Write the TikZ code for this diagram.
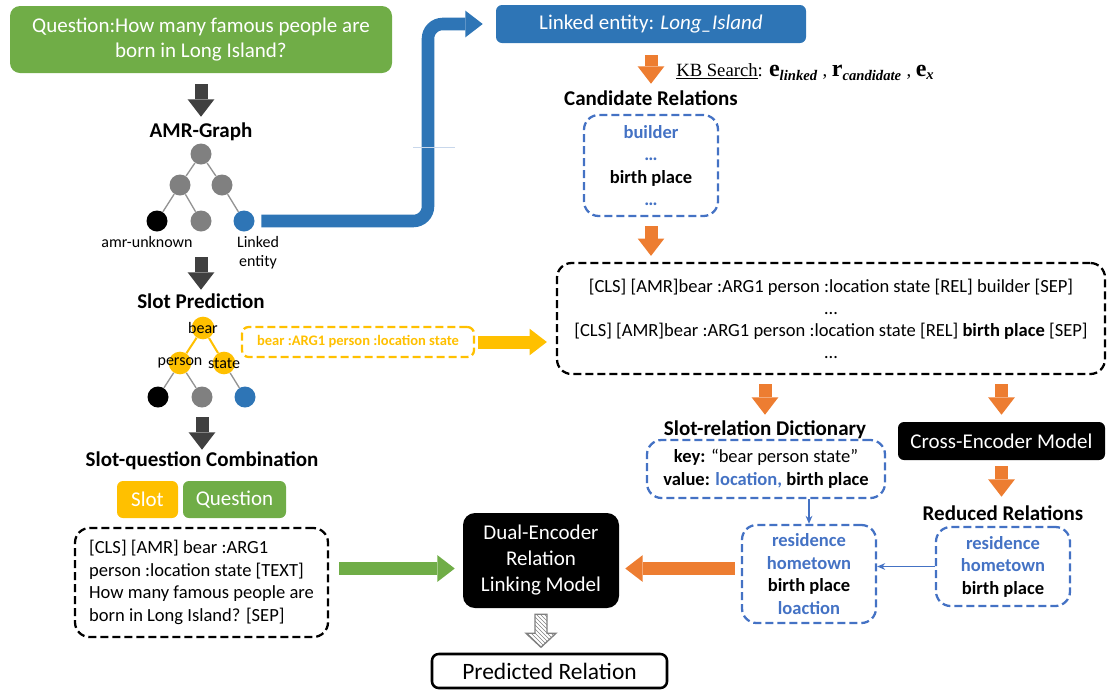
\documentclass[tikz,border=0pt]{standalone}
\usepackage{fontspec}
\setmainfont{Carlito}
\newfontfamily\kbfont{Liberation Serif}
\usepackage{tikz}
\usetikzlibrary{arrows.meta,calc,patterns}

\definecolor{ppgreen}{RGB}{112,173,71}
\definecolor{ppblue}{RGB}{46,117,182}
\definecolor{pporange}{RGB}{237,125,49}
\definecolor{ppyellow}{RGB}{255,192,0}
\definecolor{ppdash}{RGB}{68,114,196}
\definecolor{ppdark}{RGB}{64,64,64}
\definecolor{ppgray}{RGB}{128,128,128}
\definecolor{ppfaint}{RGB}{200,215,235}

\newcommand{\fbig}{\fontsize{15.75}{19.5}\selectfont}
\newcommand{\fmid}{\fontsize{13.9}{16.9}\selectfont}
\newcommand{\fsmall}{\fontsize{12}{14.25}\selectfont}

\tikzset{
  ttl/.style={font=\fbig\bfseries, inner sep=0pt, text height=11.5pt, text depth=3.5pt},
  fillbox/.style={rounded corners=4.5pt, inner sep=0pt, text=white, font=\fbig, align=center},
  bluedash/.style={draw=ppdash, line width=1.7pt, dash pattern=on 6pt off 3pt, rounded corners=11pt, inner sep=0pt, align=center, font=\fmid\bfseries},
  blackdash/.style={draw=black, line width=1.7pt, dash pattern=on 6pt off 3pt, rounded corners=11pt, inner sep=0pt, font=\fmid},
  gnode/.style={circle, fill=ppgray, minimum size=15.75pt, inner sep=0pt},
  ynode/.style={circle, fill=ppyellow, minimum size=17pt, inner sep=0pt},
  lbl/.style={font=\fsmall, inner sep=0pt, text=black},
  gedge/.style={draw=ppgray!85, line width=1pt},
  yedge/.style={draw=ppyellow, line width=1.5pt},
  blockarr/.style={line width=9.75pt, -{Triangle[length=13pt, width=20pt, line width=0pt]}},
  thinarr/.style={draw=ppdash, line width=1.1pt, -{Stealth[length=6pt, width=5pt]}}
}

\begin{document}
\begin{tikzpicture}[x=0.75pt,y=0.75pt,yscale=-1,xscale=1]
\useasboundingbox (0,0) rectangle (1107,690);

%Shape: Rounded Rect (question)
\draw (201,39.5) node (q) [fillbox, fill=ppgreen, rounded corners=7.5pt, minimum width=286.5pt, minimum height=50.25pt, font=\fontsize{15.75}{18.75}\selectfont] {Question:How many famous people are\\born in Long Island?};

% Text Node
\draw (201,132) node (amrt) [ttl] {AMR-Graph};

%Shape: Circles (AMR graph)
\draw (201,154) node (a0) [gnode] {};
\draw (180,185) node (a1) [gnode] {};
\draw (222,185) node (a2) [gnode] {};
\draw (157,221) node (a3) [gnode, fill=black] {};
\draw (201,221) node (a4) [gnode] {};
\draw (244,221) node (a5) [gnode, fill=ppblue] {};
\draw [gedge] (a0) -- (a1) (a0) -- (a2) (a1) -- (a3) (a1) -- (a4) (a2) -- (a5);

% Text Node
\draw (147,242) node (unk) [inner sep=0pt, font=\fontsize{12}{14.25}\selectfont] {amr-unknown};
% Text Node
\draw (258,252.5) node (lent) [inner sep=0pt, align=center, font=\fontsize{12}{14.25}\selectfont] {Linked\\entity};

%Straight Lines
\draw [blockarr, draw=ppdark, shorten <=8.25pt, shorten >=3.75pt] (q.south) -- (amrt.north);

%Shape: Rounded Rect (linked entity)
\draw (651,24) node (le) [fillbox, fill=ppblue, minimum width=232.5pt, minimum height=28.5pt] {Linked entity: \textit{Long\_Island}};

%Curve Lines
\draw [blockarr, draw=ppblue, line width=9.4pt, rounded corners=11pt, shorten <=4.9pt, shorten >=9.75pt] (a5) -- (428,221) |- (le);

%Straight Lines
\draw [draw=ppfaint, line width=0.75pt] (413,147) -- (455,147);

% Text Node
\draw (651,100) node (candt) [ttl] {Candidate Relations};
%Straight Lines
\draw [blockarr, draw=pporange, shorten <=9pt, shorten >=4.5pt] (le.south) -- (candt.north);

% Text Node
\draw (676,72) node (kb) [anchor=west, inner sep=0pt, font=\kbfont\fontsize{14}{16}\selectfont] {\underline{KB Search}: {\fontsize{18}{18}\selectfont\bfseries e}\textsubscript{\fontsize{11}{11}\selectfont\bfseries\itshape linked} , {\fontsize{18}{18}\selectfont\bfseries r}\textsubscript{\fontsize{11}{11}\selectfont\bfseries\itshape candidate} , {\fontsize{18}{18}\selectfont\bfseries e}\textsubscript{\fontsize{11}{11}\selectfont\bfseries\itshape x}};

%Shape: Rounded Rect (candidates)
\draw (651,165.5) node (cand) [bluedash, minimum width=100.5pt, minimum height=75.75pt] {\textcolor{ppdash}{builder}\\\textcolor{ppdash}{…}\\birth place\\\textcolor{ppdash}{…}};

%Shape: Rounded Rect (input pairs)
\draw (831,318.5) node (bigb) [blackdash, minimum width=411pt, minimum height=83.25pt, align=center, font=\fontsize{13.9}{16.5}\selectfont] {[CLS] [AMR]bear :ARG1 person :location state [REL] builder [SEP]\\…\\{}[CLS] [AMR]bear :ARG1 person :location state [REL] \textbf{birth place} [SEP]\\…};
%Straight Lines
\draw [blockarr, draw=pporange, shorten <=6.75pt, shorten >=4.5pt] (cand.south) -- (cand.south |- bigb.north);

% Text Node
\draw (201,303) node (spt) [ttl] {Slot Prediction};
%Straight Lines
\draw [blockarr, draw=ppdark, shorten <=19.1pt, shorten >=2.25pt] (a4.south) -- (spt.north);

%Shape: Circles (slot graph)
\draw (203,328) node (b0) [ynode, label={[lbl]center:bear}] {};
\draw (180,363) node (b1) [ynode, label={[lbl]center:person}] {};
\draw (224,363) node (b2) [ynode, label={[lbl]center:state}] {};
\draw (158,397) node (c1) [gnode, fill=black] {};
\draw (202,397) node (c2) [gnode] {};
\draw (245,397) node (c3) [gnode, fill=ppblue] {};
\draw [yedge] (b0) -- (b1) (b0) -- (b2);
\draw [gedge] (b1) -- (c1) (b1) -- (c2) (b2) -- (c3);

%Shape: Rounded Rect (slot string)
\draw (358,342) node (ys) [draw=ppyellow, line width=1.7pt, dash pattern=on 6pt off 3pt, rounded corners=5pt, minimum width=174pt, minimum height=22.5pt, inner sep=0pt, text=ppyellow, font=\fontsize{10.9}{13}\selectfont\bfseries] {bear :ARG1 person :location state};
%Straight Lines
\draw [blockarr, draw=ppyellow, shorten <=2.25pt, shorten >=6.75pt] (ys.east) -- (ys.east -| bigb.west);

% Text Node
\draw (202,461) node (sqt) [ttl] {Slot-question Combination};
%Straight Lines
\draw [blockarr, draw=ppdark, shorten <=7.1pt, shorten >=0.75pt] (c2.south) -- (sqt.north);

%Shape: Rounded Rect (slot / question)
\draw (147.5,499.5) node (sl) [fillbox, fill=ppyellow, minimum width=45.75pt, minimum height=27.75pt] {Slot};
\draw (234.5,499.5) node (qu) [fillbox, fill=ppgreen, minimum width=77.25pt, minimum height=27.75pt] {Question};

%Shape: Rounded Rect (combined input)
\draw (201.5,582.5) node (comb) [blackdash, minimum width=189.75pt, minimum height=81.75pt, align=left, font=\fontsize{13.9}{16.9}\selectfont] {[CLS] [AMR] bear :ARG1\\person :location state [TEXT]\\How many famous people are\\born in Long Island? [SEP]};

%Shape: Rounded Rect (dual encoder)
\draw (541,560.5) node (dual) [fillbox, fill=black, rounded corners=9pt, minimum width=117pt, minimum height=71.25pt] {Dual-Encoder\\Relation\\Linking Model};

\coordinate (lnk) at (0,568.5);
%Straight Lines
\draw [blockarr, draw=ppgreen, shorten <=7.5pt, shorten >=6pt] (lnk -| comb.east) -- (lnk -| dual.west);

%Shape: Rounded Rect (predicted)
\draw (549.5,671) node (pred) [draw=black, line width=1.9pt, rounded corners=5pt, minimum width=176.25pt, minimum height=25.5pt, inner sep=0pt, font=\fontsize{17.6}{20}\selectfont] {Predicted Relation};
%Shape: Polygon (hatched arrow)
\draw [draw=ppgray, line width=1pt, pattern=north west lines, pattern color=ppgray] ($(dual.south)+(-6,6)$) -- ++(12,0) -- ++(0,19) -- ++(9,0) -- ++(-15,14) -- ++(-15,-14) -- ++(9,0) -- cycle;

%Shape: Rounded Rect (merged relations)
\draw (809,574) node (mid) [bluedash, minimum width=100.5pt, minimum height=73.5pt] {\textcolor{ppdash}{residence}\\\textcolor{ppdash}{hometown}\\birth place\\\textcolor{ppdash}{loaction}};
%Straight Lines
\draw [blockarr, draw=pporange, shorten <=4.5pt, shorten >=4.5pt] (lnk -| mid.west) -- (lnk -| dual.east);

% Text Node
\draw (765,430) node (dictt) [ttl] {Slot-relation Dictionary};
%Straight Lines
\draw [blockarr, draw=pporange, shorten <=6.75pt, shorten >=3.75pt] (bigb.south -| dictt.north) -- (dictt.north);

%Shape: Rounded Rect (dictionary)
\draw (766,469) node (dict) [bluedash, font=\fmid, minimum width=178.5pt, minimum height=43.5pt] {\textbf{key:} “bear person state”\\\textbf{value:} \textcolor{ppdash}{\textbf{location,}} \textbf{birth place}};

%Shape: Rounded Rect (cross encoder)
\draw (1001.5,441) node (cross) [fillbox, fill=black, minimum width=155.25pt, minimum height=28.5pt] {Cross-Encoder Model};
%Straight Lines
\draw [blockarr, draw=pporange, shorten <=6.75pt, shorten >=5.25pt] (bigb.south -| cross.north) -- (cross.north);

% Text Node
\draw (1003,515) node (redt) [ttl] {Reduced Relations};
%Straight Lines
\draw [blockarr, draw=pporange, shorten <=4.5pt, shorten >=6pt] (cross.south) -- (cross.south |- redt.north);

%Shape: Rounded Rect (reduced relations)
\draw (1003,566.5) node (red) [bluedash, minimum width=100.5pt, minimum height=59.25pt] {\textcolor{ppdash}{residence}\\\textcolor{ppdash}{hometown}\\birth place};

%Straight Lines
\draw [thinarr] (dict.south -| mid.north) -- (mid.north);
\draw [thinarr] (red.west) -- (red.west -| mid.east);

\end{tikzpicture}
\end{document}
